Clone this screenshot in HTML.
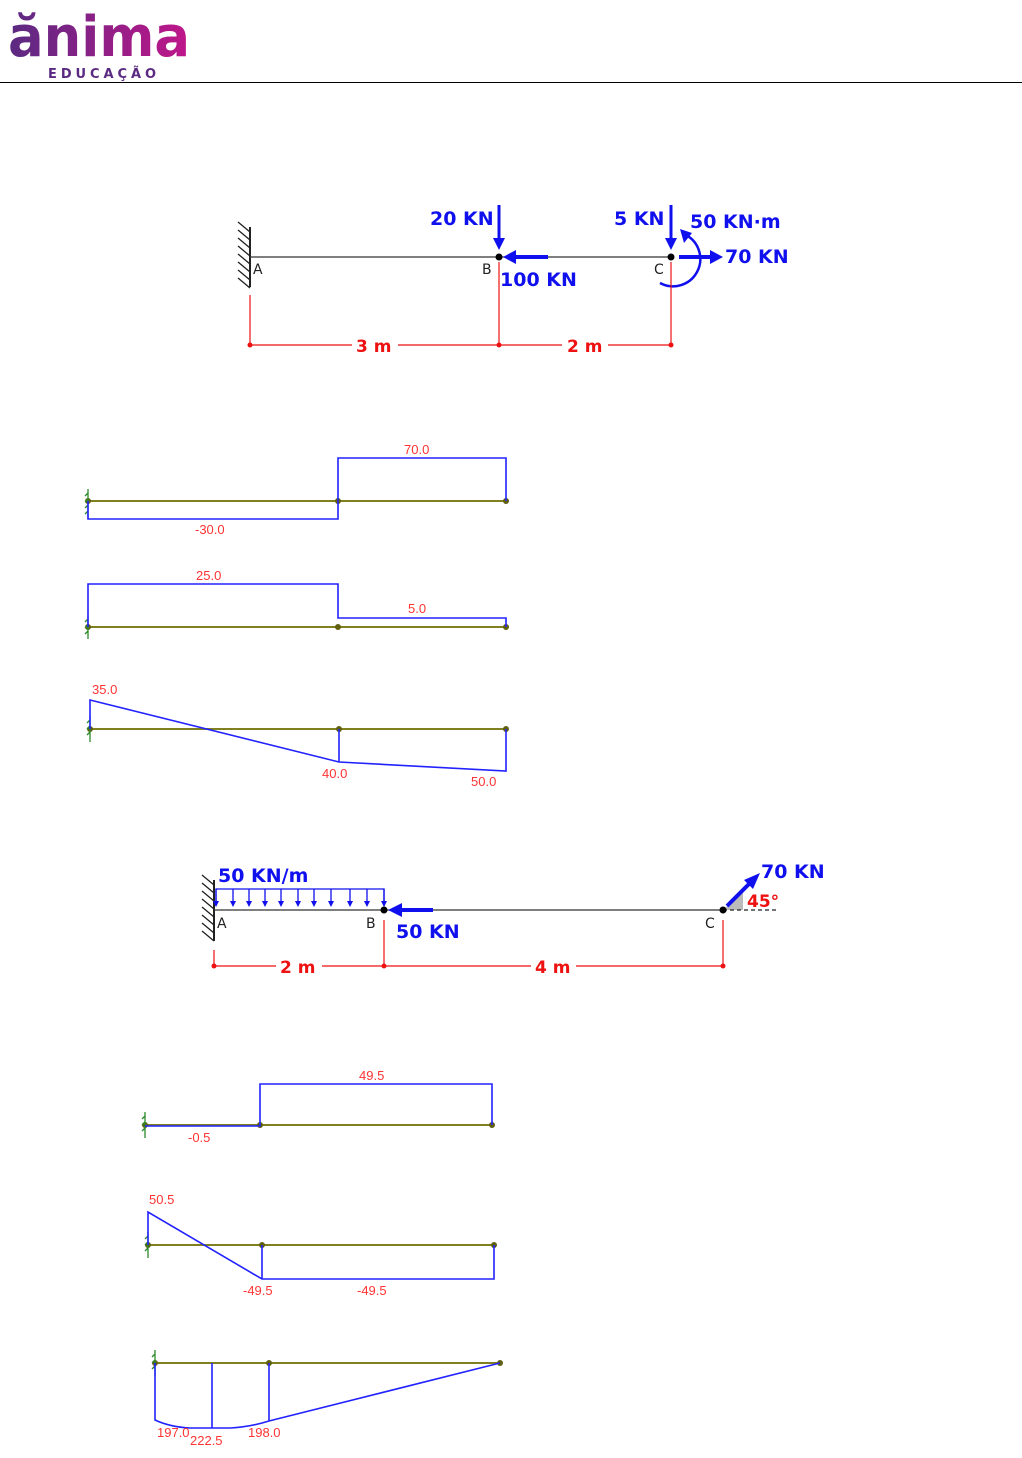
<!DOCTYPE html>
<html><head><meta charset="utf-8"><style>
html,body{margin:0;padding:0;background:#fff;}
svg{display:block;}
.v{font-family:"DejaVu Sans","Liberation Sans",sans-serif;font-weight:bold;fill:#1010ee;font-size:19px;}
.r{font-family:"DejaVu Sans","Liberation Sans",sans-serif;font-weight:bold;fill:#ee1111;font-size:17px;}
.l{font-family:"Liberation Sans",sans-serif;fill:#ff3333;font-size:13px;}
.k{font-family:"DejaVu Sans","Liberation Sans",sans-serif;fill:#222;font-size:14px;}
</style></head><body>
<svg width="1022" height="1458" viewBox="0 0 1022 1458" xmlns="http://www.w3.org/2000/svg">
<defs>
<linearGradient id="g" x1="0" x2="1"><stop offset="0" stop-color="#5a2a82"/><stop offset="1" stop-color="#c0168a"/></linearGradient>
</defs>
<!-- logo -->
<text x="8" y="56" font-family="DejaVu Sans,Liberation Sans,sans-serif" font-weight="bold" font-size="56" fill="url(#g)" textLength="182" lengthAdjust="spacingAndGlyphs">ănima</text>
<text x="48" y="78" font-family="DejaVu Sans,Liberation Sans,sans-serif" font-weight="bold" font-size="13" fill="#5a2a82" textLength="108" lengthAdjust="spacing">EDUCAÇÃO</text>
<line x1="0" y1="82.5" x2="1022" y2="82.5" stroke="#000" stroke-width="1"/>

<!-- Beam 1 -->
<g stroke="#222" stroke-width="1.3">
<line x1="250" y1="227" x2="250" y2="287" stroke-width="2"/>
<path d="M250,232 l-12,-10 M250,240 l-12,-10 M250,248 l-12,-10 M250,256 l-12,-10 M250,264 l-12,-10 M250,272 l-12,-10 M250,280 l-12,-10 M250,288 l-12,-10"/>
<line x1="250" y1="257" x2="671" y2="257" stroke="#333"/>
</g>
<circle cx="499" cy="257" r="3.5" fill="#000"/><circle cx="671" cy="257" r="3.5" fill="#000"/>
<text class="k" x="253" y="274">A</text><text class="k" x="482" y="274">B</text><text class="k" x="654" y="274">C</text>
<g stroke="#1010ee" stroke-width="3" fill="none">
<line x1="499" y1="205" x2="499" y2="242"/><path d="M493,238 L499,250 L505,238z" fill="#1010ee" stroke="none"/>
<line x1="671" y1="205" x2="671" y2="242"/><path d="M665,238 L671,250 L677,238z" fill="#1010ee" stroke="none"/>
<line x1="548" y1="257" x2="514" y2="257" stroke-width="4"/><path d="M516,250 L503,257 L516,264z" fill="#1010ee" stroke="none"/>
<line x1="679" y1="257" x2="712" y2="257" stroke-width="4"/><path d="M710,250 L723,257 L710,264z" fill="#1010ee" stroke="none"/>
<path d="M660,283 A27,27 0 0 0 686,235" stroke-width="2.5"/><path d="M680,229 L692,233 L684,243z" fill="#1010ee" stroke="none"/>
</g>
<text class="v" x="430" y="225">20 KN</text>
<text class="v" x="614" y="225">5 KN</text>
<text class="v" x="690" y="228">50 KN·m</text>
<text class="v" x="725" y="263">70 KN</text>
<text class="v" x="500" y="286">100 KN</text>
<g stroke="#ee1111" stroke-width="1.2">
<line x1="250" y1="295" x2="250" y2="345"/><line x1="499" y1="262" x2="499" y2="345"/><line x1="671" y1="262" x2="671" y2="345"/>
<line x1="250" y1="345" x2="352" y2="345"/><line x1="398" y1="345" x2="562" y2="345"/><line x1="608" y1="345" x2="671" y2="345"/>
</g>
<circle cx="250" cy="345" r="2.5" fill="#e11"/><circle cx="499" cy="345" r="2.5" fill="#e11"/><circle cx="671" cy="345" r="2.5" fill="#e11"/>
<text class="r" x="356" y="352">3 m</text><text class="r" x="567" y="352">2 m</text>

<!-- diagrams -->
<g stroke="#808020" stroke-width="2">
<line x1="88" y1="501" x2="506" y2="501"/><line x1="88" y1="627" x2="506" y2="627"/><line x1="90" y1="729" x2="506" y2="729"/>
<line x1="145" y1="1125" x2="492" y2="1125"/><line x1="148" y1="1245" x2="494" y2="1245"/><line x1="155" y1="1363" x2="500" y2="1363"/>
</g>
<g fill="#606010">
<circle cx="88" cy="501" r="3"/><circle cx="338" cy="501" r="3"/><circle cx="506" cy="501" r="3"/>
<circle cx="88" cy="627" r="3"/><circle cx="338" cy="627" r="3"/><circle cx="506" cy="627" r="3"/>
<circle cx="90" cy="729" r="3"/><circle cx="339" cy="729" r="3"/><circle cx="506" cy="729" r="3"/>
<circle cx="145" cy="1125" r="3"/><circle cx="260" cy="1125" r="3"/><circle cx="492" cy="1125" r="3"/>
<circle cx="148" cy="1245" r="3"/><circle cx="262" cy="1245" r="3"/><circle cx="494" cy="1245" r="3"/>
<circle cx="155" cy="1363" r="3"/><circle cx="269" cy="1363" r="3"/><circle cx="500" cy="1363" r="3"/>
</g>
<g stroke="#2a8a2a" stroke-width="1.3" fill="none">
<path d="M88,489 v30 M88,493 l-3,3 M88,499 l-3,3 M88,505 l-3,3 M88,511 l-3,3"/>
<path d="M88,615 v24 M88,619 l-3,3 M88,625 l-3,3 M88,631 l-3,3"/>
<path d="M90,716 v26 M90,720 l-3,3 M90,726 l-3,3 M90,732 l-3,3"/>
<path d="M145,1112 v26 M145,1116 l-3,3 M145,1122 l-3,3 M145,1128 l-3,3"/>
<path d="M148,1232 v26 M148,1236 l-3,3 M148,1242 l-3,3 M148,1248 l-3,3"/>
<path d="M155,1350 v26 M155,1354 l-3,3 M155,1360 l-3,3 M155,1366 l-3,3"/>
</g>
<g stroke="#2222ff" stroke-width="1.6" fill="none">
<path d="M88,501 V519 H338 V458 H506 V501"/>
<path d="M88,627 V584 H338 V618 H506 V627"/>
<path d="M90,729 V700 L339,762 L506,771 V729 M339,729 V762"/>
<path d="M145,1126 H260 V1084 H492 V1125"/>
<path d="M148,1245 V1212 L262,1279 H494 V1245 M262,1245 V1279"/>
<path d="M155,1363 V1420 Q170,1427 190,1428 H230 Q250,1427 269,1421 L500,1363 M212,1363 V1428 M269,1363 V1421"/>
</g>
<text class="l" x="195" y="534">-30.0</text><text class="l" x="404" y="454">70.0</text>
<text class="l" x="196" y="580">25.0</text><text class="l" x="408" y="613">5.0</text>
<text class="l" x="92" y="694">35.0</text><text class="l" x="322" y="778">40.0</text><text class="l" x="471" y="786">50.0</text>
<text class="l" x="188" y="1142">-0.5</text><text class="l" x="359" y="1080">49.5</text>
<text class="l" x="149" y="1204">50.5</text><text class="l" x="243" y="1295">-49.5</text><text class="l" x="357" y="1295">-49.5</text>
<text class="l" x="157" y="1437">197.0</text><text class="l" x="190" y="1445">222.5</text><text class="l" x="248" y="1437">198.0</text>

<!-- Beam 2 -->
<g stroke="#222" stroke-width="1.3">
<line x1="214" y1="880" x2="214" y2="941" stroke-width="2"/>
<path d="M214,885 l-12,-10 M214,893 l-12,-10 M214,901 l-12,-10 M214,909 l-12,-10 M214,917 l-12,-10 M214,925 l-12,-10 M214,933 l-12,-10 M214,941 l-12,-10"/>
<line x1="214" y1="910" x2="723" y2="910" stroke="#333"/>
</g>
<path d="M723,910 L743,910 L743,891z" fill="#bbb"/>
<line x1="723" y1="910" x2="778" y2="910" stroke="#222" stroke-width="1.2" stroke-dasharray="4,3"/>
<circle cx="384" cy="910" r="3.5" fill="#000"/><circle cx="723" cy="910" r="3.5" fill="#000"/>
<text class="k" x="217" y="928">A</text><text class="k" x="366" y="928">B</text><text class="k" x="705" y="928">C</text>
<g stroke="#1010ee" stroke-width="1.3" fill="none">
<path d="M216,906 V889 H384 V906"/>
<path d="M216,889 v14 M233,889 v14 M249,889 v14 M265,889 v14 M281,889 v14 M298,889 v14 M314,889 v14 M331,889 v14 M350,889 v14 M367,889 v14 M384,889 v14"/>
</g>
<g fill="#1010ee">
<path d="M213,901 l3,6 l3,-6z M230,901 l3,6 l3,-6z M246,901 l3,6 l3,-6z M262,901 l3,6 l3,-6z M278,901 l3,6 l3,-6z M295,901 l3,6 l3,-6z M311,901 l3,6 l3,-6z M328,901 l3,6 l3,-6z M347,901 l3,6 l3,-6z M364,901 l3,6 l3,-6z M381,901 l3,6 l3,-6z"/>
</g>
<line x1="433" y1="910" x2="400" y2="910" stroke="#1010ee" stroke-width="4"/><path d="M402,903 L388,910 L402,917z" fill="#1010ee"/>
<line x1="727" y1="906" x2="750" y2="883" stroke="#1010ee" stroke-width="4"/><path d="M744,880 L760,873 L753,889z" fill="#1010ee"/>
<text class="v" x="218" y="882">50 KN/m</text>
<text class="v" x="396" y="938">50 KN</text>
<text class="v" x="761" y="878">70 KN</text>
<text class="r" x="747" y="907" font-size="16">45°</text>
<g stroke="#ee1111" stroke-width="1.2">
<line x1="214" y1="950" x2="214" y2="966"/><line x1="384" y1="920" x2="384" y2="966"/><line x1="723" y1="920" x2="723" y2="966"/>
<line x1="214" y1="966" x2="276" y2="966"/><line x1="322" y1="966" x2="531" y2="966"/><line x1="576" y1="966" x2="723" y2="966"/>
</g>
<circle cx="214" cy="966" r="2.5" fill="#e11"/><circle cx="384" cy="966" r="2.5" fill="#e11"/><circle cx="723" cy="966" r="2.5" fill="#e11"/>
<text class="r" x="280" y="973">2 m</text><text class="r" x="535" y="973">4 m</text>
</svg>
</body></html>
